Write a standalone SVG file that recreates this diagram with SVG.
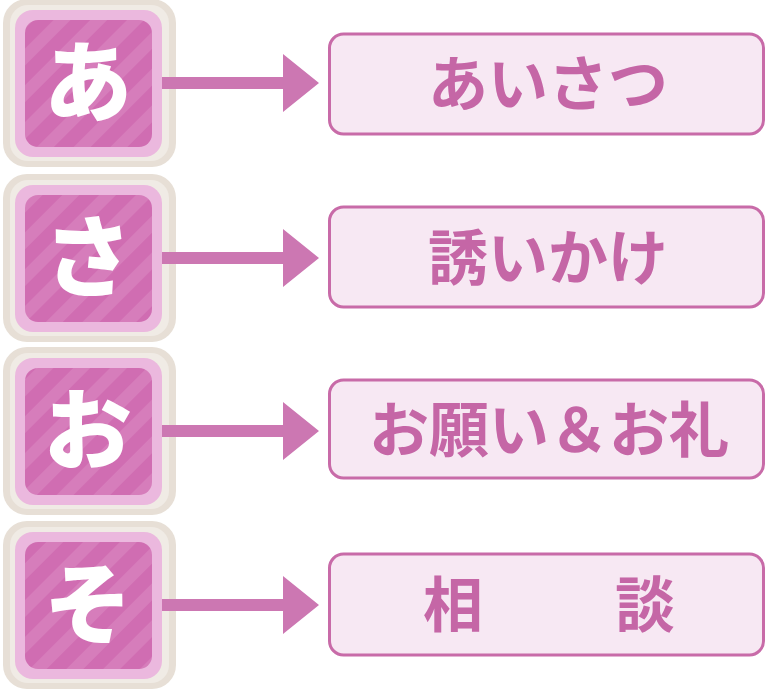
<svg xmlns="http://www.w3.org/2000/svg" width="766" height="693" viewBox="0 0 766 693">
<style>
.frame{fill:#e7dfd6}
.frame2{fill:#f0ebe5}
.lp{fill:#ebb8de}
.dk{fill:url(#stripes)}
.key{font-family:"Noto Sans CJK JP","Noto Sans CJK SC",sans-serif;font-weight:900;font-size:88px;fill:#ffffff;text-anchor:middle}
.box{fill:#f7e8f3;stroke:#c86ba8;stroke-width:3}
.lbl{font-family:"Noto Sans CJK JP","Noto Sans CJK SC",sans-serif;font-weight:700;font-size:60px;fill:#c566a6;text-anchor:middle}
.arr{fill:#cc77b2}
</style>
<defs>
<pattern id="stripes" patternUnits="userSpaceOnUse" width="26" height="26" patternTransform="rotate(45)">
<rect width="26" height="26" fill="#d06db2"/>
<rect width="12" height="26" fill="#d67dbb"/>
</pattern>
</defs>
<rect width="766" height="693" fill="#ffffff"/>
<g id="key-a">
<rect class="frame" x="3" y="-1" width="173" height="168" rx="24"/>
<rect class="frame2" x="10" y="5" width="159" height="156" rx="18"/>
<rect class="lp" x="15" y="10" width="147" height="147" rx="18"/>
<rect class="dk" x="25" y="20" width="127" height="127" rx="13"/>
<text class="key" x="88" y="114">あ</text>
</g>
<g id="key-sa">
<rect class="frame" x="3" y="174" width="173" height="168" rx="24"/>
<rect class="frame2" x="10" y="180" width="159" height="156" rx="18"/>
<rect class="lp" x="15" y="185" width="147" height="147" rx="18"/>
<rect class="dk" x="25" y="195" width="127" height="127" rx="13"/>
<text class="key" x="88" y="289">さ</text>
</g>
<g id="key-o">
<rect class="frame" x="3" y="347" width="173" height="168" rx="24"/>
<rect class="frame2" x="10" y="353" width="159" height="156" rx="18"/>
<rect class="lp" x="15" y="358" width="147" height="147" rx="18"/>
<rect class="dk" x="25" y="368" width="127" height="127" rx="13"/>
<text class="key" x="88" y="462">お</text>
</g>
<g id="key-so">
<rect class="frame" x="3" y="521" width="173" height="168" rx="24"/>
<rect class="frame2" x="10" y="527" width="159" height="156" rx="18"/>
<rect class="lp" x="15" y="532" width="147" height="147" rx="18"/>
<rect class="dk" x="25" y="542" width="127" height="127" rx="13"/>
<text class="key" x="88" y="636">そ</text>
</g>
<g id="box-aisatsu">
<rect class="box" x="329.5" y="34" width="434" height="100" rx="14"/>
<text class="lbl" x="548" y="106">あいさつ</text>
</g>
<g id="box-sasoikake">
<rect class="box" x="329.5" y="207" width="434" height="100" rx="14"/>
<text class="lbl" x="548" y="280">誘いかけ</text>
</g>
<g id="box-onegai">
<rect class="box" x="329.5" y="380" width="434" height="98" rx="14"/>
<text class="lbl" x="549" y="452">お願い＆お礼</text>
</g>
<g id="box-soudan">
<rect class="box" x="329.5" y="554" width="434" height="101" rx="14"/>
<text class="lbl" x="423" y="627" style="text-anchor:start;letter-spacing:4px">相　　談</text>
</g>
<g id="connectors">
<path class="arr" d="M162 77h121v-23l36 29l-36 29v-23h-121z"/>
<path class="arr" d="M162 252h121v-23l36 29l-36 29v-23h-121z"/>
<path class="arr" d="M162 425h121v-23l36 29l-36 29v-23h-121z"/>
<path class="arr" d="M162 599h121v-23l36 29l-36 29v-23h-121z"/>
</g>
</svg>
